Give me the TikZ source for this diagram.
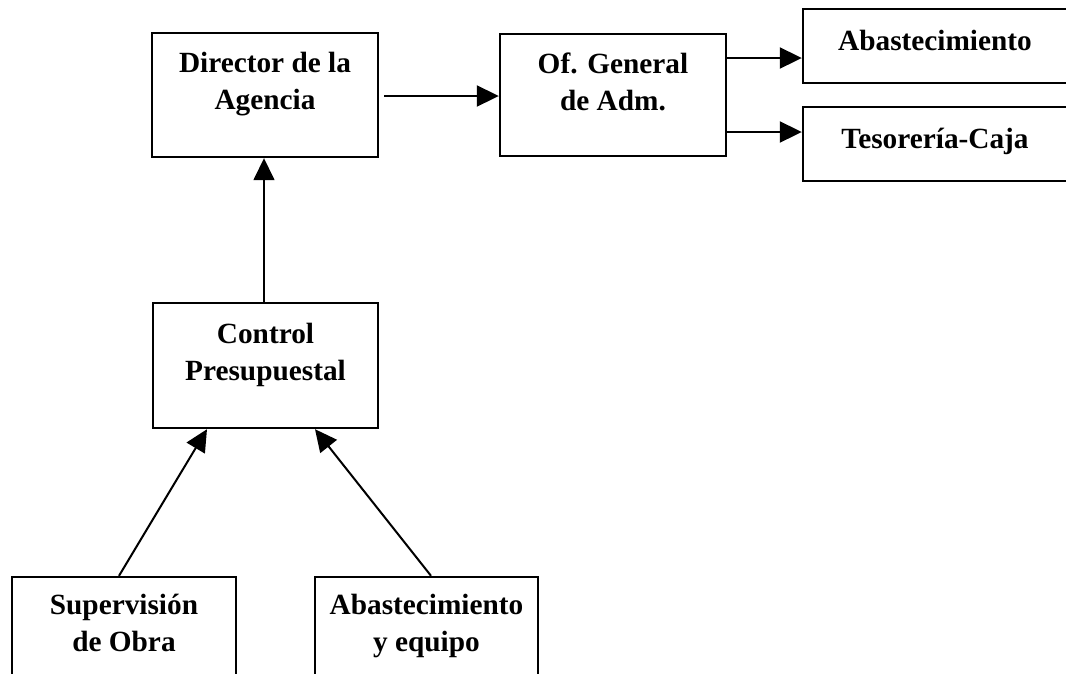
\documentclass[tikz,border=0pt]{standalone}
\usepackage{fontspec}
\setmainfont{Liberation Serif}
\usetikzlibrary{arrows.meta,calc}
\tikzset{
  box/.style={draw=black, line width=2.4pt, fill=white, inner sep=0pt},
  lbl/.style={font=\bfseries\fontsize{29.3}{37}\selectfont, align=center, inner sep=0pt},
  arr/.style={line width=2pt, -{Triangle[length=22pt,width=21pt]}}
}
\begin{document}
\begin{tikzpicture}[x=1pt,y=-1pt]
\clip (0,0) rectangle (1066,673);
\fill[white] (0,0) rectangle (1066,673);
% boxes
\node[box, minimum width=226pt, minimum height=124pt] (dir) at (265,95) {};
\node[box, minimum width=226pt, minimum height=122pt] (ofg) at (613,95) {};
\node[box, minimum width=268pt, minimum height=74pt] (ab) at (937,46) {};
\node[box, minimum width=268pt, minimum height=74pt] (tes) at (937,144) {};
\node[box, minimum width=225pt, minimum height=125pt] (ctrl) at (265.5,365.5) {};
\node[box, minimum width=224pt, minimum height=124pt] (sup) at (124,639) {};
\node[box, minimum width=223pt, minimum height=124pt] (abq) at (426.5,639) {};
% labels
\node[lbl] (tdir) at ($(dir.center)+(0,-10.5)$) {Director de la\\Agencia};
\node[lbl] (tofg) at ($(ofg.center)+(0,-13.5)$) {Of. General\\de Adm.};
\node[lbl] (tab) at ($(ab.center)+(-2,-6)$) {Abastecimiento};
\node[lbl] (ttes) at ($(tes.center)+(-2,-2.75)$) {Tesorería-Caja};
\node[lbl] (tctrl) at ($(ctrl.center)+(0,-10.5)$) {Control\\Presupuestal};
\node[lbl] (tsup) at (124,622.5) {Supervisión\\de Obra};
\node[lbl] (tabq) at (426.5,626) {Abastecimiento\\y equipo};
% connectors
\draw[arr] ($(dir.east)+(5,1)$) -- ($(ofg.west)+(0,1)$);
\draw[arr] ($(ofg.east)+(0,-37)$) -- ($(ab.west)+(0,12)$);
\draw[arr] ($(ofg.east)+(0,37)$) -- ($(tes.west)+(0,-12)$);
\draw[arr, line width=1.6pt] ($(ctrl.north)+(-1.5,0)$) -- ($(dir.south)+(-1,0)$);
\draw[arr] ($(sup.north)+(-5,0)$) -- ($(ctrl.south)+(-58.5,0)$);
\draw[arr] ($(abq.north)+(4.5,0)$) -- ($(ctrl.south)+(49.5,0)$);
\end{tikzpicture}
\end{document}
